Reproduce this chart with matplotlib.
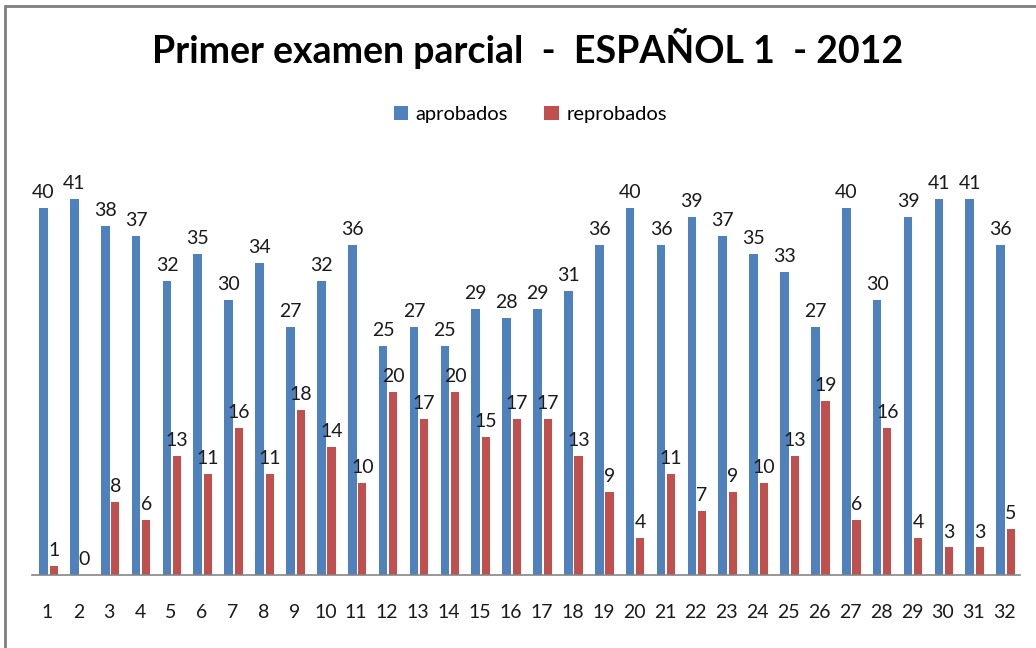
import matplotlib
matplotlib.use("Agg")
import matplotlib.pyplot as plt
import numpy as np
from matplotlib.patches import Rectangle

plt.rcParams["font.family"] = ["Lato", "DejaVu Sans"]

grupos = [str(i) for i in range(1, 33)]
aprobados = [40, 41, 38, 37, 32, 35, 30, 34, 27, 32, 36, 25, 27, 25, 29, 28,
             29, 31, 36, 40, 36, 39, 37, 35, 33, 27, 40, 30, 39, 41, 41, 36]
reprobados = [1, 0, 8, 6, 13, 11, 16, 11, 18, 14, 10, 20, 17, 20, 15, 17,
              17, 13, 9, 4, 11, 7, 9, 10, 13, 19, 6, 16, 4, 3, 3, 5]

AZUL = "#4F81BD"
ROJO = "#C0504D"

fig = plt.figure(figsize=(10.36, 6.48), dpi=100)
ax = fig.add_axes([0.0309, 0.1127, 0.9537, 0.637])

x = np.arange(len(grupos))
w = 0.28
b1 = ax.bar(x - 0.13, aprobados, w, color=AZUL, label="aprobados")
b2 = ax.bar(x + 0.2, reprobados, w * 0.95, color=ROJO, label="reprobados")

for bars, vals in ((b1, aprobados), (b2, reprobados)):
    for rect, v in zip(bars, vals):
        ax.annotate(str(v), (rect.get_x() + rect.get_width() / 2, v),
                    xytext=(0, 5), textcoords="offset points",
                    ha="center", va="bottom", fontsize=14, color="#1a1a1a")

ax.set_xlim(-0.5, len(grupos) - 0.5)
ax.set_ylim(0, 45)
ax.set_xticks(x)
ax.set_xticklabels(grupos, fontsize=14, color="#1a1a1a")
ax.tick_params(axis="x", length=0, pad=21)
ax.set_yticks([])
for side in ("top", "right", "left"):
    ax.spines[side].set_visible(False)
ax.spines["bottom"].set_color("#868686")
ax.spines["bottom"].set_linewidth(1.2)

fig.text(0.509, 0.925, "Primer examen parcial  -  ESPAÑOL 1  - 2012",
         ha="center", va="center", fontsize=27, fontweight="bold")

fig.legend(handles=[b1, b2], loc="center", bbox_to_anchor=(0.512, 0.823),
           ncol=2, frameon=False, fontsize=14.5, handlelength=0.7,
           handleheight=0.7, handletextpad=0.4, columnspacing=1.8)

fig.patches.append(Rectangle((0.005, -0.01), 1.2, 1.0, transform=fig.transFigure,
                             fill=False, edgecolor="#7f7f7f", linewidth=2.0))

fig.savefig("out.png", dpi=100)
